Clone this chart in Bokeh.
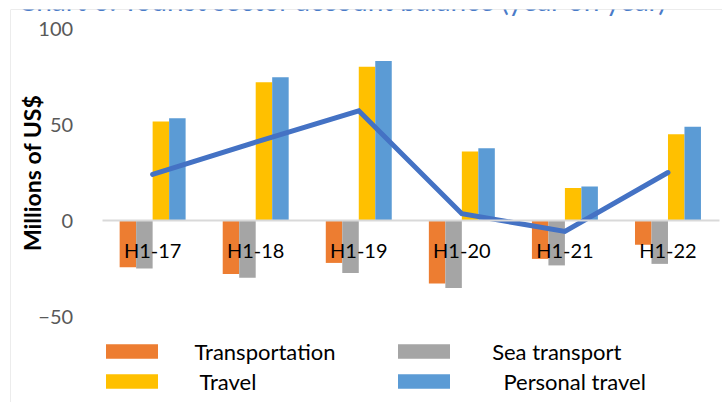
from bokeh.plotting import figure
from bokeh.models import (Range1d, FixedTicker, LinearAxis, Legend, LegendItem,
                          Label, Span, ColumnDataSource)
from bokeh.transform import dodge
from bokeh.embed import file_html
from bokeh.resources import INLINE
import math

# Half-year periods
periods = ["H1-17", "H1-18", "H1-19", "H1-20", "H1-21", "H1-22"]

# Millions of US$
transportation = [-24.0, -27.6, -21.8, -32.5, -19.7, -12.3]
sea_transport = [-24.7, -29.5, -27.0, -34.9, -23.1, -22.3]
travel = [51.8, 72.2, 80.2, 36.1, 17.1, 45.1]
personal_travel = [53.5, 74.8, 83.2, 37.8, 18.0, 49.0]
balance = [24.2, 41.0, 57.3, 3.8, -5.4, 25.2]

y_ticks = [-50, 0, 50, 100]

FONT = "Lato"
W, H = 722, 402

idx = list(range(len(periods)))
src = ColumnDataSource(dict(
    x=idx, transportation=transportation, sea=sea_transport,
    travel=travel, personal=personal_travel, balance=balance,
))

p = figure(width=W, height=H, output_backend="svg", toolbar_location=None,
           x_range=Range1d(-1.379, 5.529), y_range=Range1d(-94.4, 110.0),
           min_border_left=10, min_border_top=9, min_border_right=0,
           min_border_bottom=0, x_axis_type=None, y_axis_type=None)
p.outline_line_color = None
p.background_fill_color = "white"
p.border_fill_color = "white"
p.xgrid.visible = False
p.ygrid.visible = False

# chart border (left and top edges)
p.add_layout(Span(location=p.x_range.start, dimension="height",
                  line_color="#D9D9D9", line_width=1))
p.add_layout(Span(location=p.y_range.end, dimension="width",
                  line_color="#D9D9D9", line_width=1))

bw = 0.16
series = [
    ("transportation", "Transportation", "#ED7D31", -0.24),
    ("sea", "Sea transport", "#A5A5A5", -0.08),
    ("travel", "Travel", "#FFC000", 0.08),
    ("personal", "Personal travel", "#5B9BD5", 0.24),
]
bars = {}
for col, name, color, off in series:
    bars[name] = p.vbar(x=dodge("x", off, range=p.x_range), top=col, bottom=0,
                        width=bw, source=src, fill_color=color, line_color=None)

p.line(x="x", y="balance", source=src, line_color="#4472C4", line_width=5,
       line_cap="round", line_join="miter")

# value axis: labels only
yaxis = LinearAxis(fixed_location=-0.49, ticker=FixedTicker(ticks=y_ticks),
                   axis_line_color=None, major_tick_line_color=None,
                   minor_tick_line_color=None, major_label_standoff=23,
                   major_label_text_font=FONT, major_label_text_font_size="20px",
                   major_label_text_color="#595959")
p.add_layout(yaxis, "left")

# category axis sitting on the zero line
xaxis = LinearAxis(fixed_location=0, bounds=(-0.49, 5.5),
                   ticker=FixedTicker(ticks=idx),
                   major_label_overrides={i: s for i, s in enumerate(periods)},
                   axis_line_color="#D9D9D9", axis_line_width=2,
                   major_tick_line_color=None, minor_tick_line_color=None,
                   major_label_standoff=11,
                   major_label_text_font=FONT, major_label_text_font_size="20px",
                   major_label_text_color="black")
p.add_layout(xaxis, "below")

p.add_layout(Label(x=21.7, y=25, x_units="screen", y_units="data",
                   text="Millions of US$", angle=math.pi / 2,
                   text_align="center", text_baseline="middle",
                   text_font=FONT, text_font_style="bold",
                   text_font_size="23px", text_color="black"))

p.add_layout(Label(x=7, y=403, x_units="screen", y_units="screen",
                   text="Chart 6. Tourist sector account balance (year on year)",
                   text_align="left", text_baseline="alphabetic",
                   text_font=FONT, text_font_size="28px", text_color="#4A7BC8"))

nb = "\u00a0"
legend = Legend(items=[
    LegendItem(label="Transportation", renderers=[bars["Transportation"]]),
    LegendItem(label=nb + "Sea transport", renderers=[bars["Sea transport"]]),
    LegendItem(label=nb + "Travel", renderers=[bars["Travel"]]),
    LegendItem(label=nb * 3 + "Personal travel", renderers=[bars["Personal travel"]]),
], location=(88.5, 7.5), orientation="horizontal", ncols=2,
    glyph_width=65, glyph_height=18, label_standoff=31, spacing=3,
    label_width=193, padding=0, margin=0,
    border_line_color=None, background_fill_alpha=0,
    label_text_font=FONT, label_text_font_size="22px", label_text_color="black")
p.add_layout(legend)

open("out.html", "w").write(file_html(p, INLINE))
